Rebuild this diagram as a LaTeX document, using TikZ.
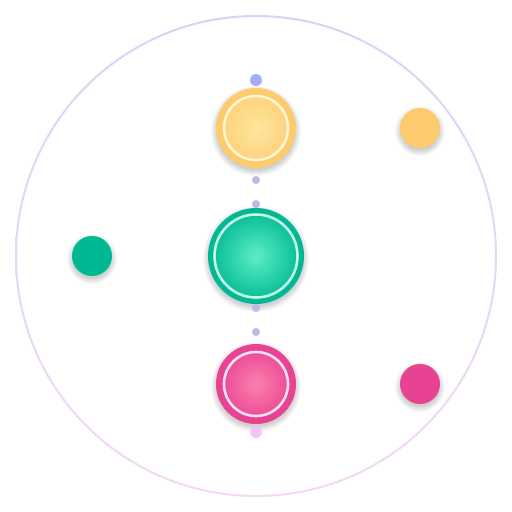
\documentclass[tikz,border=0pt]{standalone}
\definecolor{yel}{HTML}{FDCB6E}
\definecolor{yelc}{HTML}{FFE6A0}
\definecolor{yelr}{HTML}{FFF4D6}
\definecolor{grn}{HTML}{00B894}
\definecolor{grnc}{HTML}{5CEEC4}
\definecolor{grnr}{HTML}{C6F7E6}
\definecolor{pnk}{HTML}{E84393}
\definecolor{pnkc}{HTML}{FD80AE}
\definecolor{pnkr}{HTML}{FFE0EE}
\definecolor{ringtop}{HTML}{D4D6F6}
\definecolor{ringbot}{HTML}{F5D8F6}
\definecolor{dotlav}{HTML}{C8B4DC}
\definecolor{dottop}{HTML}{A3AEF0}
\definecolor{dotbot}{HTML}{F2C6FA}
\newcommand\myshadow[3]{%
  \foreach \k in {0,...,6}{%
    \fill[black, opacity=0.028] (#1,#2+3) circle ({#3+5-\k});%
  }%
}
\tikzset{
  orb/.style={circle, inner sep=0pt, draw=none, fill=#1},
  dot/.style={circle, inner sep=0pt, draw=none, fill=#1},
  whitering/.style={draw=#1, line width=2.6pt}
}
\begin{document}
\begin{tikzpicture}[x=1pt,y=-1pt]
\useasboundingbox (0,0) rectangle (512,512);
\fill[white] (0,0) rectangle (512,512);
% outer ring
\shade[top color=ringtop, bottom color=ringbot, even odd rule]
  (256,256) circle (241) (256,256) circle (239);
% shadows
\myshadow{256}{128}{40}
\myshadow{256}{256}{48}
\myshadow{256}{384}{40}
\myshadow{420}{128}{20}
\myshadow{92}{256}{20}
\myshadow{420}{384}{20}
% main orbs
\node[orb=yel, minimum size=80pt] (sun) at (256,128) {};
\node[orb=grn, minimum size=96pt] (core) at (256,256) {};
\node[orb=pnk, minimum size=80pt] (rose) at (256,384) {};
\shade[inner color=yelc, outer color=yel!70!yelc] (sun.center) circle (31);
\draw[whitering=yelr] (sun.center) circle (32);
\shade[inner color=grnc, outer color=grn!85!grnc] (core.center) circle (40.5);
\draw[whitering=grnr] (core.center) circle (41.5);
\shade[inner color=pnkc, outer color=pnk!80!pnkc] (rose.center) circle (31);
\draw[whitering=pnkr] (rose.center) circle (32);
% small satellites
\node[orb=yel, minimum size=40pt] (ys) at (420,128) {};
\node[orb=grn, minimum size=40pt] (gs) at (92,256) {};
\node[orb=pnk, minimum size=40pt] (ps) at (420,384) {};
% dots
\node[dot=dottop, minimum size=12pt] (d0) at (256,80) {};
\node[dot=dotlav, minimum size=8pt] (d1) at (256,180) {};
\node[dot=dotlav, minimum size=8pt] (d2) at (256,204) {};
\node[dot=dotlav, minimum size=8pt] (d3) at (256,308) {};
\node[dot=dotlav, minimum size=8pt] (d4) at (256,332) {};
\node[dot=dotbot, minimum size=12pt] (d5) at (256,432) {};
\end{tikzpicture}
\end{document}
